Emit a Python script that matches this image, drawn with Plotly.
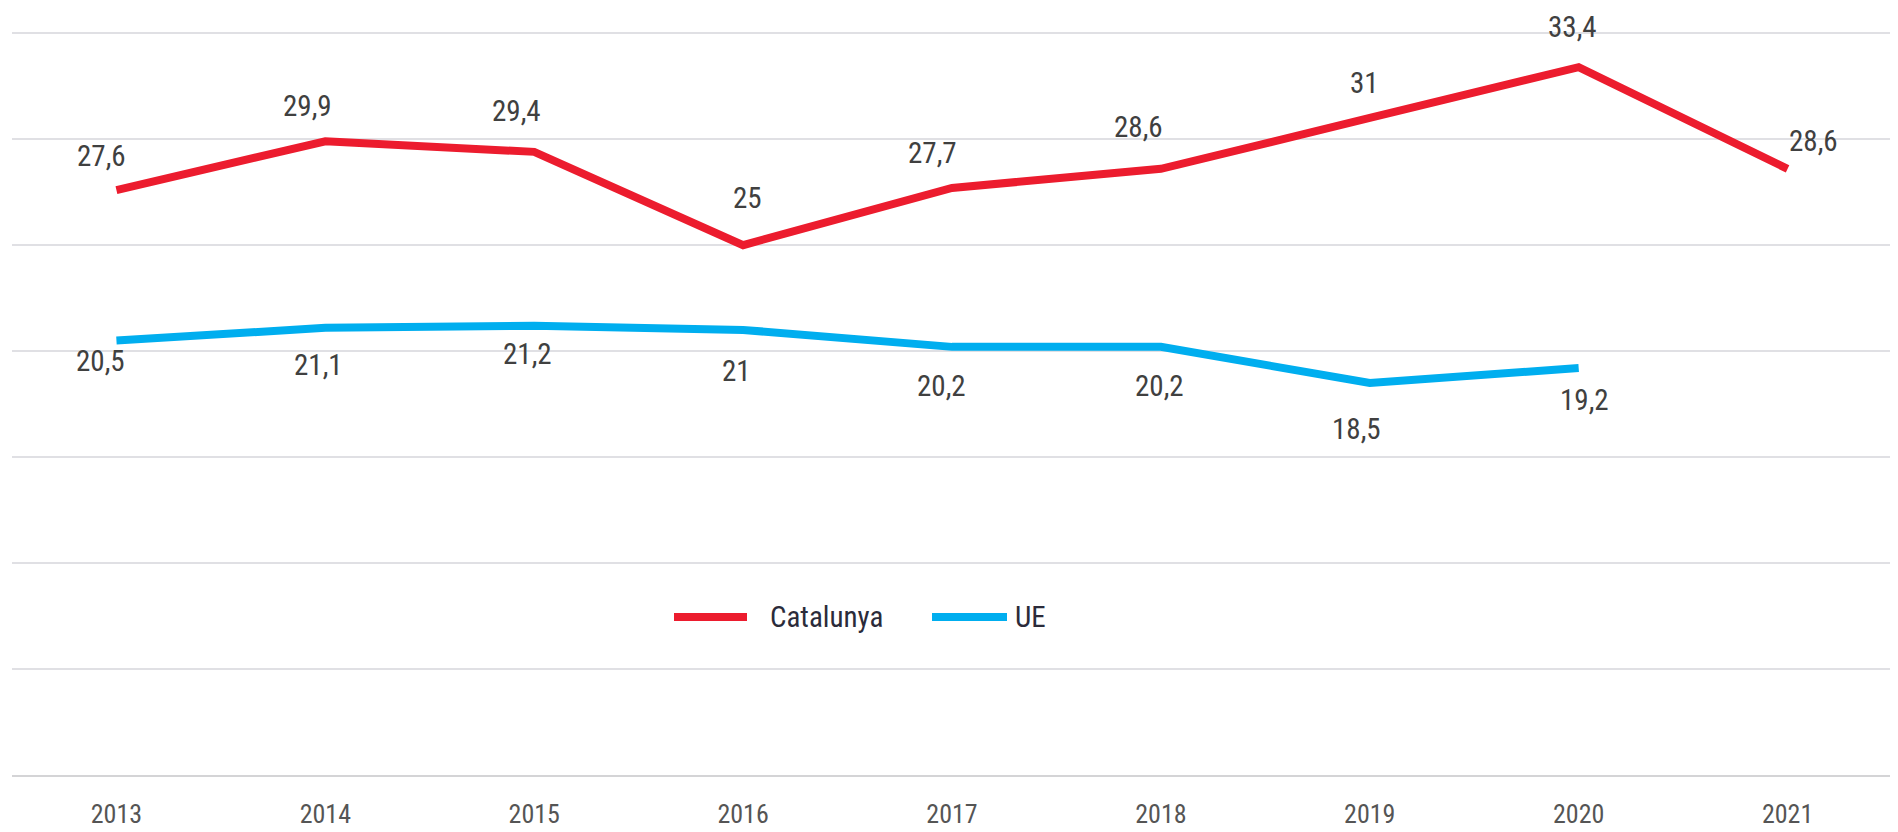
import plotly.graph_objects as go

years = ["2013", "2014", "2015", "2016", "2017", "2018", "2019", "2020", "2021"]
catalunya = [27.6, 29.9, 29.4, 25.0, 27.7, 28.6, 31.0, 33.4, 28.6]
ue = [20.5, 21.1, 21.2, 21.0, 20.2, 20.2, 18.5, 19.2, None]

cat_labels = ["27,6", "29,9", "29,4", "25", "27,7", "28,6", "31", "33,4", "28,6"]
ue_labels = ["20,5", "21,1", "21,2", "21", "20,2", "20,2", "18,5", "19,2", ""]

# label offsets (pixels) as placed in the original
cat_dx = [-15, -18, -18, 4, -20, -22, -5, -6, 26]
cat_dy = [34, 35, 41, 47, 35, 42, 35, 40, 28]
ue_dx = [-16, -7, -7, -7, -11, -1, -13, 6, 0]
ue_dy = [-20, -37, -28, -41, -39, -39, -46, -32, 0]

RED = "#EC1C2E"
BLUE = "#00AEEF"
FONT = "Roboto Condensed, DejaVu Sans Condensed, Roboto, sans-serif"

fig = go.Figure()
fig.add_trace(go.Scatter(x=years, y=catalunya, mode="lines", name="Catalunya",
                         line=dict(color=RED, width=8), showlegend=False))
fig.add_trace(go.Scatter(x=years, y=ue, mode="lines", name="UE",
                         line=dict(color=BLUE, width=8), showlegend=False))

for i, y in enumerate(years):
    fig.add_annotation(x=i, y=catalunya[i], text=cat_labels[i], showarrow=False,
                       xshift=cat_dx[i], yshift=cat_dy[i],
                       font=dict(family=FONT, size=29, color="#404040"))
    if ue[i] is not None:
        fig.add_annotation(x=i, y=ue[i], text=ue_labels[i], showarrow=False,
                           xshift=ue_dx[i], yshift=ue_dy[i],
                           font=dict(family=FONT, size=29, color="#404040"))

# manual legend (page-pixel positions converted to paper coordinates)
PL, PR, PT, PB = 12, 1892, 12, 775

def px_x(p):
    return (p - PL) / (PR - PL)

def px_y(p):
    return (PB - p) / (PB - PT)

fig.add_shape(type="line", xref="paper", yref="paper", x0=px_x(674), x1=px_x(747),
              y0=px_y(617), y1=px_y(617), line=dict(color=RED, width=8))
fig.add_annotation(xref="paper", yref="paper", x=px_x(768), y=px_y(617), text="Catalunya",
                   xanchor="left", yanchor="middle", showarrow=False,
                   font=dict(family=FONT, size=29, color="#2b2b3a"))
fig.add_shape(type="line", xref="paper", yref="paper", x0=px_x(932), x1=px_x(1007),
              y0=px_y(617), y1=px_y(617), line=dict(color=BLUE, width=8))
fig.add_annotation(xref="paper", yref="paper", x=px_x(1013), y=px_y(617), text="UE",
                   xanchor="left", yanchor="middle", showarrow=False,
                   font=dict(family=FONT, size=29, color="#2b2b3a"))

# page body has an 8px margin, so the figure is offset by 8px
fig.update_layout(
    width=1890, height=824,
    margin=dict(l=4, r=6, t=4, b=57),
    plot_bgcolor="white", paper_bgcolor="white",
    showlegend=False,
)
fig.update_xaxes(type="category", range=[-0.5, 8.5], showgrid=False, automargin=False,
                 showline=True, linecolor="#d4d4d6", linewidth=2,
                 ticks="outside", ticklen=15, tickcolor="rgba(0,0,0,0)",
                 tickfont=dict(family=FONT, size=26, color="#555555"))
fig.update_yaxes(range=[0, 36], dtick=5, showgrid=True, gridcolor="#e0e0e4", gridwidth=1.5,
                 showticklabels=False, zeroline=False, automargin=False)

fig.write_html("out.html")
